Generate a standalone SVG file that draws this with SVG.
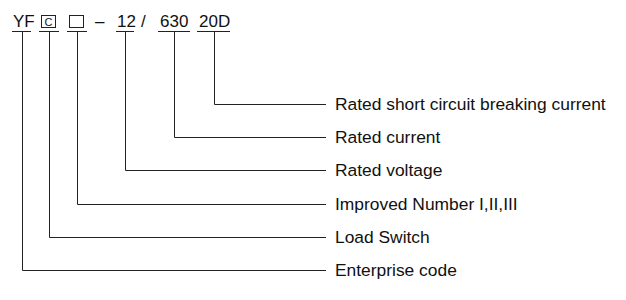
<svg xmlns="http://www.w3.org/2000/svg" width="626" height="300" viewBox="0 0 626 300">
<style>
.code{font-family:"Liberation Sans",Arial,sans-serif;font-size:17px;fill:#111}
.lbl{font-family:"Liberation Sans",Arial,sans-serif;font-size:17.4px;fill:#111}
.ln{stroke:#222;stroke-width:1;fill:none}
.box{stroke:#222;stroke-width:1;fill:none}
</style>
<rect width="626" height="300" fill="#fff"/>
<g id="code">
<g id="n-yf"><text class="code" x="13" y="27">YF</text><line class="ln" x1="12" y1="31.5" x2="31" y2="31.5"/></g>
<g id="n-c"><rect class="box" x="41.5" y="15.5" width="14" height="12"/><text x="48.5" y="25.5" text-anchor="middle" style="font-family:'Liberation Sans',Arial,sans-serif;font-size:11px;fill:#111">C</text><line class="ln" x1="39" y1="31.5" x2="59" y2="31.5"/></g>
<g id="n-box"><rect class="box" x="69.5" y="15.5" width="14" height="12"/><line class="ln" x1="67" y1="31.5" x2="87" y2="31.5"/></g>
<g id="n-dash"><text class="code" x="95" y="27">–</text></g>
<g id="n-12"><text class="code" x="117" y="27">12</text><line class="ln" x1="116" y1="31.5" x2="134" y2="31.5"/></g>
<g id="n-slash"><text class="code" x="141" y="27">/</text></g>
<g id="n-630"><text class="code" x="160" y="27">630</text><line class="ln" x1="158" y1="31.5" x2="190" y2="31.5"/></g>
<g id="n-20d"><text class="code" x="199" y="27">20D</text><line class="ln" x1="197" y1="31.5" x2="230" y2="31.5"/></g>
</g>
<g id="connectors">
<polyline class="ln" points="214.5,31.5 214.5,104.5 326,104.5"/>
<polyline class="ln" points="174.5,31.5 174.5,137.5 326,137.5"/>
<polyline class="ln" points="125.5,31.5 125.5,170.5 326,170.5"/>
<polyline class="ln" points="77.5,31.5 77.5,204.5 326,204.5"/>
<polyline class="ln" points="49.5,31.5 49.5,237.5 326,237.5"/>
<polyline class="ln" points="22.5,31.5 22.5,270.5 326,270.5"/>
</g>
<g id="labels">
<g id="l1"><text class="lbl" x="335" y="110">Rated short circuit breaking current</text></g>
<g id="l2"><text class="lbl" x="335" y="143">Rated current</text></g>
<g id="l3"><text class="lbl" x="335" y="176">Rated voltage</text></g>
<g id="l4"><text class="lbl" x="335" y="210">Improved Number I,II,III</text></g>
<g id="l5"><text class="lbl" x="335" y="243">Load Switch</text></g>
<g id="l6"><text class="lbl" x="335" y="276">Enterprise code</text></g>
</g>
</svg>
